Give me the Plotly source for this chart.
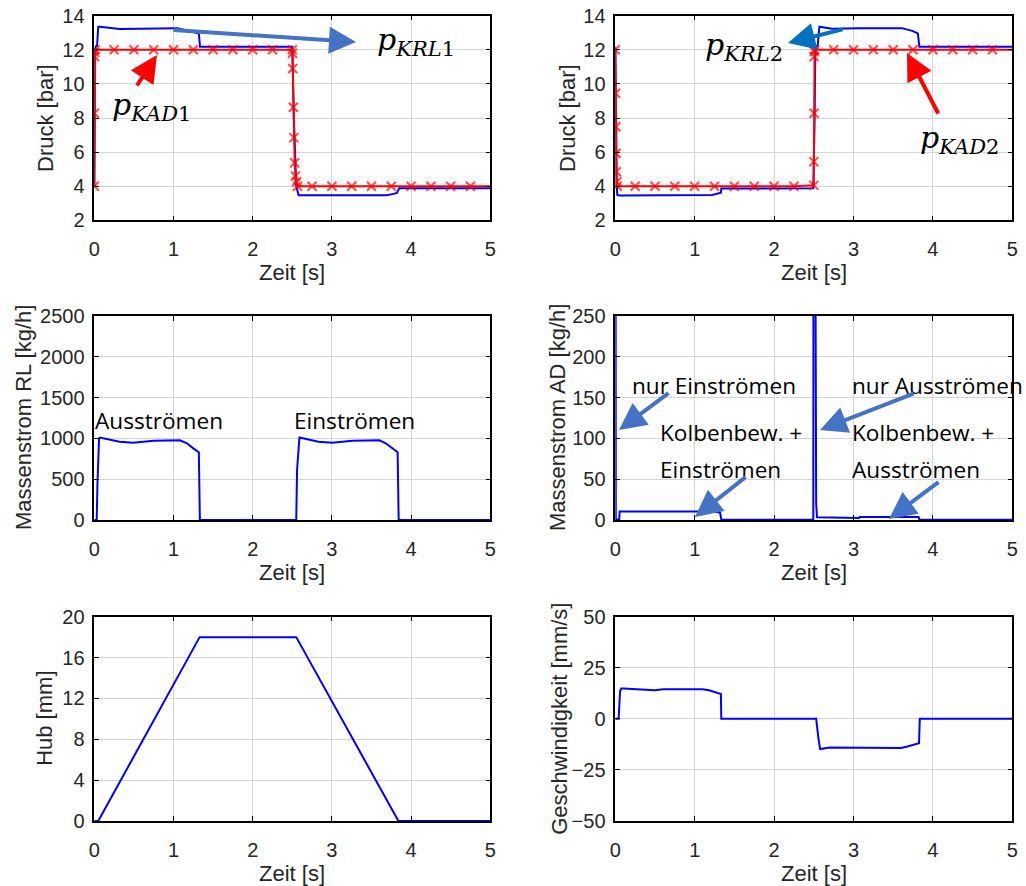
import plotly.graph_objects as go

# ---------------- data ----------------
# Druck Kammer 1
t_krl1 = [0.0, 0.01, 0.02, 0.035, 0.05, 0.07, 0.32, 0.58, 1.05, 1.2, 1.32, 1.335, 2.5, 2.52, 2.55, 2.58,
          3.69, 3.78, 3.82, 3.85, 5.0]
p_krl1 = [4.0, 12.0, 12.2, 12.25, 13.35, 13.35, 13.22, 13.24, 13.27, 13.11, 12.96, 12.18, 12.18, 8.0, 4.0, 3.47,
          3.47, 3.55, 3.6, 3.88, 3.88]
t_kad1 = [0.0, 0.002, 0.005, 0.008, 0.012, 0.25, 0.5, 0.75, 1.0, 1.25, 1.5, 1.75, 2.0, 2.25, 2.5,
          2.502, 2.505, 2.513, 2.52, 2.53, 2.54, 2.555, 2.567, 2.75, 3.0, 3.25, 3.5, 3.75, 4.0,
          4.25, 4.5, 4.75, 5.0]
p_kad1 = [4.0, 8.28, 11.6, 11.85, 12.0, 12.0, 12.0, 12.0, 12.0, 12.0, 12.0, 12.0, 12.0, 12.0, 12.0,
          11.8, 10.9, 8.63, 6.85, 5.38, 4.6, 4.26, 4.0, 4.0, 4.0, 4.0, 4.0, 4.0, 4.0,
          4.0, 4.0, 4.0, 4.0]

# Druck Kammer 2
t_krl2 = [0.0, 0.005, 0.012, 0.025, 0.05, 1.22, 1.3, 1.33, 1.335, 2.494, 2.51, 2.52, 2.55, 2.57,
          2.73, 3.07, 3.61, 3.74, 3.81, 3.83, 5.0]
p_krl2 = [12.18, 9.0, 4.6, 3.48, 3.45, 3.48, 3.58, 3.62, 3.86, 3.88, 8.0, 12.2, 12.25, 13.35,
          13.23, 13.27, 13.27, 13.11, 12.96, 12.18, 12.18]
t_kad2 = [0.0, 0.004, 0.008, 0.011, 0.015, 0.02, 0.024, 0.25, 0.5, 0.75, 1.0, 1.25, 1.5, 1.75, 2.0,
          2.25, 2.5, 2.501, 2.503, 2.505, 2.507, 2.51, 2.75, 3.0, 3.25, 3.5, 3.75, 4.0, 4.25, 4.5,
          4.75, 5.0]
p_kad2 = [12.0, 9.45, 7.49, 5.93, 4.85, 4.26, 4.0, 4.0, 4.0, 4.0, 4.0, 4.0, 4.0, 4.0, 4.0,
          4.0, 4.05, 5.44, 8.28, 11.6, 11.9, 12.0, 12.0, 12.0, 12.0, 12.0, 12.0, 12.0, 12.0, 12.0,
          12.0, 12.0]

# Massenstrom Rücklauf
t_rl = [0.0, 0.03, 0.04, 0.06, 0.07, 0.32, 0.49, 0.75, 1.08, 1.17, 1.25, 1.32, 1.333,
        2.55, 2.56, 2.58, 2.59, 2.83, 3.0, 3.26, 3.6, 3.68, 3.76, 3.83, 3.843, 5.0]
m_rl = [0, 0, 450, 1000, 1010, 960, 948, 972, 976, 940, 878, 830, 0,
        0, 610, 1000, 1010, 960, 948, 972, 976, 940, 878, 830, 0, 0]

# Massenstrom Abluft/Druckluft
t_ad = [0.0, 0.006, 0.05, 0.055, 1.23, 1.28, 1.32, 1.335, 2.494, 2.5, 2.52, 2.524, 2.526,
        2.528, 2.53, 2.54, 2.81, 2.82, 3.07, 3.08, 3.82, 3.83, 5.0]
m_ad = [1000, 0.5, 0.5, 10.5, 10.5, 10.0, 9.0, 0.3, 0.3, 1000, 220, 208, 140, 110, 20, 3.3, 3.3,
        2.6, 2.6, 3.7, 3.7, 0.3, 0.3]

# Kolbenhub
t_hub = [0.0, 0.05, 1.33, 2.55, 3.84, 5.0]
hub = [0.0, 0.0, 18.0, 18.0, 0.0, 0.0]

# Kolbengeschwindigkeit
t_v = [0.0, 0.042, 0.06, 0.075, 0.1, 0.3, 0.5, 0.6, 1.1, 1.18, 1.26, 1.33, 1.335, 2.53, 2.56,
       2.58, 2.7, 3.2, 3.3, 3.6, 3.68, 3.78, 3.825, 3.835, 5.0]
v = [0.0, 0.0, 13.5, 14.8, 14.8, 14.5, 14.0, 14.5, 14.5, 14.0, 13.0, 12.2, 0.0, 0.0, -10.0,
     -14.8, -14.0, -14.0, -14.3, -14.3, -13.5, -12.5, -11.9, 0.0, 0.0]

x_ticks = [0, 1, 2, 3, 4, 5]
ticks_p = [2, 4, 6, 8, 10, 12, 14]
ticks_rl = [0, 500, 1000, 1500, 2000, 2500]
ticks_ad = [0, 50, 100, 150, 200, 250]
ticks_hub = [0, 4, 8, 12, 16, 20]
ticks_v = [-50, -25, 0, 25, 50]

# ---------------- layout helpers ----------------
W, H = 1026, 886
COLS = [(94.3, 490.3), (615.3, 1012.3)]
ROWS = [(15.7, 220.3), (316.0, 520.0), (616.7, 821.0)]


def px(x):
    return x / W


def py(y):
    return 1 - y / H


BLUE = "#0000ff"
RED = "#ff0000"
ARROW = "#4472c4"
TICKFONT = dict(family="Liberation Sans, Arial, sans-serif", size=20, color="#262626")
TITLEFONT = dict(family="Liberation Sans, Arial, sans-serif", size=22, color="#262626")
NOTEFONT = dict(family="Open Sans, sans-serif", size=22.6, color="#000000")
MATHFONT = dict(family="DejaVu Serif, serif", size=30, color="#000000")

fig = go.Figure()

panels = [
    # (row, col, yrange, yticks, ytitle, ytitle_x)
    (0, 0, [2, 14], ticks_p, "Druck [bar]", 45),
    (0, 1, [2, 14], ticks_p, "Druck [bar]", 567),
    (1, 0, [0, 2500], ticks_rl, "Massenstrom RL [kg/h]", 23),
    (1, 1, [0, 250], ticks_ad, "Massenstrom AD [kg/h]", 557),
    (2, 0, [0, 20], ticks_hub, "Hub [mm]", 45),
    (2, 1, [-50, 50], ticks_v, "Geschwindigkeit [mm/s]", 560),
]

annotations = []
axis_ids = []
for i, (r, c, yr, yt, ytitle, ytx) in enumerate(panels):
    n = "" if i == 0 else str(i + 1)
    axis_ids.append(("x" + n, "y" + n))
    x0, x1 = COLS[c]
    y0, y1 = ROWS[r]
    common = dict(
        showline=True, linecolor="#000000", linewidth=1.5, mirror="ticks",
        ticks="inside", ticklen=5, tickwidth=1.2, tickcolor="#000000",
        showgrid=True, gridcolor="#d4d4d4", gridwidth=1, zeroline=False,
        tickfont=TICKFONT, automargin=False,
    )
    fig.update_layout(**{
        "xaxis" + n: dict(domain=[px(x0), px(x1)], range=[0, 5], tickvals=x_ticks,
                          anchor="y" + n, ticklabelstandoff=10, **common),
        "yaxis" + n: dict(domain=[py(y1), py(y0)], range=yr, tickvals=yt,
                          anchor="x" + n, ticklabelstandoff=4, **common),
    })
    # axis titles
    annotations.append(dict(text="Zeit [s]", xref="paper", yref="paper",
                            x=px((x0 + x1) / 2), y=py(y1 + 52), showarrow=False,
                            xanchor="center", yanchor="middle", font=TITLEFONT))
    annotations.append(dict(text=ytitle, xref="paper", yref="paper",
                            x=px(ytx), y=py((y0 + y1) / 2), showarrow=False, textangle=-90,
                            xanchor="center", yanchor="middle", font=TITLEFONT))


def line(x, y, color, ax, name):
    return go.Scatter(x=x, y=y, mode="lines", line=dict(color=color, width=2),
                      xaxis=ax[0], yaxis=ax[1], name=name, showlegend=False)


def marked(x, y, ax, name):
    sizes = [9] * (len(x) - 1) + [0]
    return go.Scatter(x=x, y=y, mode="lines+markers", line=dict(color=RED, width=2),
                      marker=dict(symbol="x-thin", size=sizes, line=dict(color=RED, width=2)),
                      xaxis=ax[0], yaxis=ax[1], name=name, showlegend=False)


fig.add_trace(line(t_krl1, p_krl1, BLUE, axis_ids[0], "p_KRL1"))
fig.add_trace(marked(t_kad1, p_kad1, axis_ids[0], "p_KAD1"))
fig.add_trace(line(t_krl2, p_krl2, BLUE, axis_ids[1], "p_KRL2"))
fig.add_trace(marked(t_kad2, p_kad2, axis_ids[1], "p_KAD2"))
fig.add_trace(line(t_rl, m_rl, BLUE, axis_ids[2], "Massenstrom RL"))
fig.add_trace(line(t_ad, m_ad, BLUE, axis_ids[3], "Massenstrom AD"))
fig.add_trace(line(t_hub, hub, BLUE, axis_ids[4], "Hub"))
fig.add_trace(line(t_v, v, BLUE, axis_ids[5], "Geschwindigkeit"))


def note(text, x, y, font=NOTEFONT):
    annotations.append(dict(text=text, xref="paper", yref="paper", x=px(x), y=py(y),
                            showarrow=False, xanchor="left", yanchor="middle", font=font))


def arrow(x_tail, y_tail, x_head, y_head, color):
    annotations.append(dict(text="", xref="paper", yref="paper", x=px(x_head), y=py(y_head),
                            ax=x_tail - x_head, ay=y_tail - y_head, axref="pixel", ayref="pixel",
                            showarrow=True, arrowhead=2, arrowsize=1.35, arrowwidth=4,
                            arrowcolor=color))


# pressure labels
note("<i>p</i><sub><i>KRL</i>1</sub>", 375, 42, MATHFONT)
note("<i>p</i><sub><i>KAD</i>1</sub>", 110, 106, MATHFONT)
note("<i>p</i><sub><i>KRL</i>2</sub>", 703, 46, MATHFONT)
note("<i>p</i><sub><i>KAD</i>2</sub>", 918, 139, MATHFONT)
arrow(172, 30, 356, 42, ARROW)
arrow(136, 87, 157, 55, RED)
arrow(844, 29, 788, 43, "#0070c0")
arrow(939, 115, 907, 53, RED)

# mass flow labels
note("Ausströmen", 93, 421)
note("Einströmen", 292, 421)
note("nur Einströmen", 630, 386)
note("nur Ausströmen", 850, 386)
note("Kolbenbew. +", 658, 432)
note("Einströmen", 658, 469)
note("Kolbenbew. +", 850, 432)
note("Ausströmen", 850, 469)
arrow(670, 392, 619, 430, ARROW)
arrow(915, 393, 820, 430, ARROW)
arrow(747, 476, 695, 517, ARROW)
arrow(940, 481, 889, 519, ARROW)

fig.update_layout(
    width=W, height=H, margin=dict(l=0, r=0, t=0, b=0, pad=0),
    paper_bgcolor="white", plot_bgcolor="white",
    annotations=annotations, showlegend=False,
)

fig.write_html("out.html")
